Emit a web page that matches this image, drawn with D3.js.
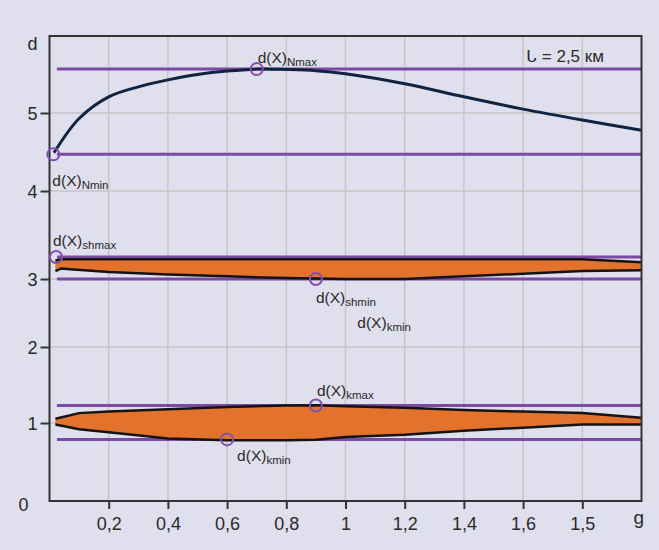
<!DOCTYPE html>
<html><head><meta charset="utf-8">
<script src="https://cdn.jsdelivr.net/npm/d3@7"></script>
<style>
html,body{margin:0;padding:0;background:#dfdfed;}
svg{display:block;font-family:"Liberation Sans",Arial,sans-serif;}
</style></head><body><svg id="c" width="659" height="550"></svg>
<script>
// ---------- data ----------
const xTickValues = [0.2, 0.4, 0.6, 0.8, 1.0, 1.2, 1.4, 1.6, 1.8];
const xTickLabels = ["0,2", "0,4", "0,6", "0,8", "1", "1,2", "1,4", "1,6", "1,5"];
const yTickValues = [0, 1, 2, 3, 4, 5];
const yTickLabels = ["0", "1", "2", "3", "4", "5"];
const xTitle = "g";
const yTitle = "d";
const noteText = "ᒐ = 2,5 км";

// d(X)N curve
const gN = [0.015, 0.1, 0.2, 0.3, 0.4, 0.5, 0.6, 0.7, 0.8, 0.9, 1.0, 1.2, 1.4, 1.6, 1.8, 2.0];
const dN = [4.49, 4.93, 5.21, 5.34, 5.43, 5.5, 5.545, 5.57, 5.565, 5.55, 5.51, 5.38, 5.21, 5.05, 4.91, 4.78];

// d(X)sh band
const gSh = [0.02, 0.04, 0.07, 0.2, 0.4, 0.6, 0.8, 1.0, 1.2, 1.4, 1.6, 1.8, 2.0];
const shUpper = [3.21, 3.225, 3.225, 3.225, 3.225, 3.225, 3.225, 3.225, 3.225, 3.225, 3.225, 3.225, 3.19];
const shLower = [3.09, 3.12, 3.11, 3.08, 3.05, 3.03, 3.01, 3.0, 3.0, 3.03, 3.06, 3.09, 3.1];

// d(X)k band
const gK = [0.02, 0.1, 0.2, 0.4, 0.6, 0.8, 0.9, 1.0, 1.2, 1.4, 1.6, 1.8, 2.0];
const kUpper = [1.055, 1.13, 1.15, 1.18, 1.21, 1.23, 1.235, 1.22, 1.2, 1.17, 1.15, 1.13, 1.07];
const kLower = [0.98, 0.92, 0.88, 0.8, 0.78, 0.78, 0.785, 0.82, 0.85, 0.9, 0.94, 0.98, 0.98];

// reference levels (horizontal lines)
const refLevels = [5.57, 4.47, 3.25, 3.0, 1.23, 0.79];
const refStart = 0.025, refEnd = 2.0;

// marked points
const markG = [0.013, 0.7, 0.022, 0.9, 0.9, 0.6];
const markD = [4.47, 5.57, 3.25, 3.0, 1.23, 0.79];
const markSub = ["Nmin", "Nmax", "shmax", "shmin", "kmax", "kmin"];

// extra label without a marker
const extraG = [1.04];
const extraD = [2.28];
const extraSub = ["kmin"];

// ---------- layout ----------
const svg = d3.select("#c");
const x = d3.scaleLinear().domain([0, 2]).range([49.5, 641.5]);
const y = d3.scaleLinear().domain([0, 1, 2, 3, 4, 5, 6]).range([501, 423, 347, 279, 191, 113, 36]);
const X0 = x(0), X1 = x(2), Y0 = y(0), Y1 = y(6);

svg.append("rect").attr("width", 659).attr("height", 550).attr("fill", "#dfdfed");

// grid
const grid = svg.append("g").attr("stroke", "#c8c5c6").attr("stroke-width", 1.5);
grid.selectAll("line.v").data(xTickValues).join("line")
  .attr("x1", d => x(d)).attr("x2", d => x(d)).attr("y1", Y1).attr("y2", Y0);
grid.selectAll("line.h").data(yTickValues.filter(d => d > 0)).join("line")
  .attr("x1", X0).attr("x2", X1).attr("y1", d => y(d)).attr("y2", d => y(d));

// purple reference lines
svg.append("g").attr("stroke", "#7b4aa2").attr("stroke-width", 3)
  .selectAll("line").data(refLevels).join("line")
  .attr("x1", x(refStart)).attr("x2", x(refEnd))
  .attr("y1", d => y(d)).attr("y2", d => y(d));

// bands
function band(gs, up, lo) {
  const pts = gs.map((g, i) => ({g, u: up[i], l: lo[i]}));
  const area = d3.area().x(d => x(d.g)).y0(d => y(d.l)).y1(d => y(d.u));
  const lineU = d3.line().x(d => x(d.g)).y(d => y(d.u));
  const lineL = d3.line().x(d => x(d.g)).y(d => y(d.l));
  svg.append("path").datum(pts).attr("d", area).attr("fill", "#e2722c");
  svg.append("path").datum(pts).attr("d", lineU).attr("fill", "none").attr("stroke", "#141414").attr("stroke-width", 2.5);
  svg.append("path").datum(pts).attr("d", lineL).attr("fill", "none").attr("stroke", "#141414").attr("stroke-width", 2.5);
}
band(gSh, shUpper, shLower);
band(gK, kUpper, kLower);

// N curve
svg.append("path").datum(gN.map((g, i) => [g, dN[i]]))
  .attr("d", d3.line().x(d => x(d[0])).y(d => y(d[1])).curve(d3.curveCatmullRom.alpha(0.5)))
  .attr("fill", "none").attr("stroke", "#0f2342").attr("stroke-width", 3);

// frame
svg.append("rect").attr("x", X0).attr("y", Y1).attr("width", X1 - X0).attr("height", Y0 - Y1)
  .attr("fill", "none").attr("stroke", "#333").attr("stroke-width", 2);

// axes
const xAxis = d3.axisBottom(x).tickValues(xTickValues)
  .tickFormat((d, i) => xTickLabels[i]).tickSize(8).tickPadding(8);
const gx = svg.append("g").attr("transform", `translate(0,${Y0})`).call(xAxis);
gx.select(".domain").remove();
gx.selectAll(".tick line").attr("stroke", "#333").attr("stroke-width", 2);
gx.selectAll(".tick text").attr("font-size", 18).attr("fill", "#2a2a2a")
  .attr("font-family", "'Liberation Sans',Arial,sans-serif");

const yAxis = d3.axisLeft(y).tickValues(yTickValues)
  .tickFormat((d, i) => yTickLabels[i]).tickSize(9).tickPadding(4);
const gy = svg.append("g").attr("transform", `translate(${X0},0)`).call(yAxis);
gy.select(".domain").remove();
gy.selectAll(".tick line").attr("stroke", "#333").attr("stroke-width", 2)
  .attr("display", d => d === 0 ? "none" : null);
gy.selectAll(".tick text").attr("font-size", 18).attr("fill", "#2a2a2a")
  .attr("font-family", "'Liberation Sans',Arial,sans-serif")
  .attr("x", d => d === 0 ? -21 : -12)
  .attr("dy", d => d === 0 ? "0.5em" : "0.35em");

// axis titles
svg.append("text").attr("x", X0 - 22).attr("y", Y1 + 14).attr("font-size", 18).attr("fill", "#2a2a2a").text(yTitle);
svg.append("text").attr("x", X1 - 8).attr("y", Y0 + 23).attr("font-size", 19).attr("fill", "#2a2a2a").text(xTitle);

// note
svg.append("text").attr("x", x(1.61)).attr("y", Y1 + 26).attr("font-size", 17).attr("fill", "#2a2a2a").text(noteText);

// markers
svg.append("g").selectAll("circle").data(markG).join("circle")
  .attr("cx", d => x(d)).attr("cy", (d, i) => y(markD[i])).attr("r", 6)
  .attr("fill", "none").attr("stroke", "#8450ad").attr("stroke-width", 2);

// labels (offsets relative to markers, in px)
const labelOffsets = [[-1, 32], [1, -6], [-3, -11], [0, 24], [1, -10], [10, 22]];
function addLabel(px, py, sub) {
  const t = svg.append("text").attr("x", px).attr("y", py).attr("font-size", 15.5).attr("fill", "#2a2a2a");
  t.append("tspan").text("d(X)");
  t.append("tspan").attr("font-size", 11.5).attr("dy", 3).text(sub);
}
markG.forEach((g, i) => addLabel(x(g) + labelOffsets[i][0], y(markD[i]) + labelOffsets[i][1], markSub[i]));
extraG.forEach((g, i) => addLabel(x(g), y(extraD[i]), extraSub[i]));
</script></body></html>
